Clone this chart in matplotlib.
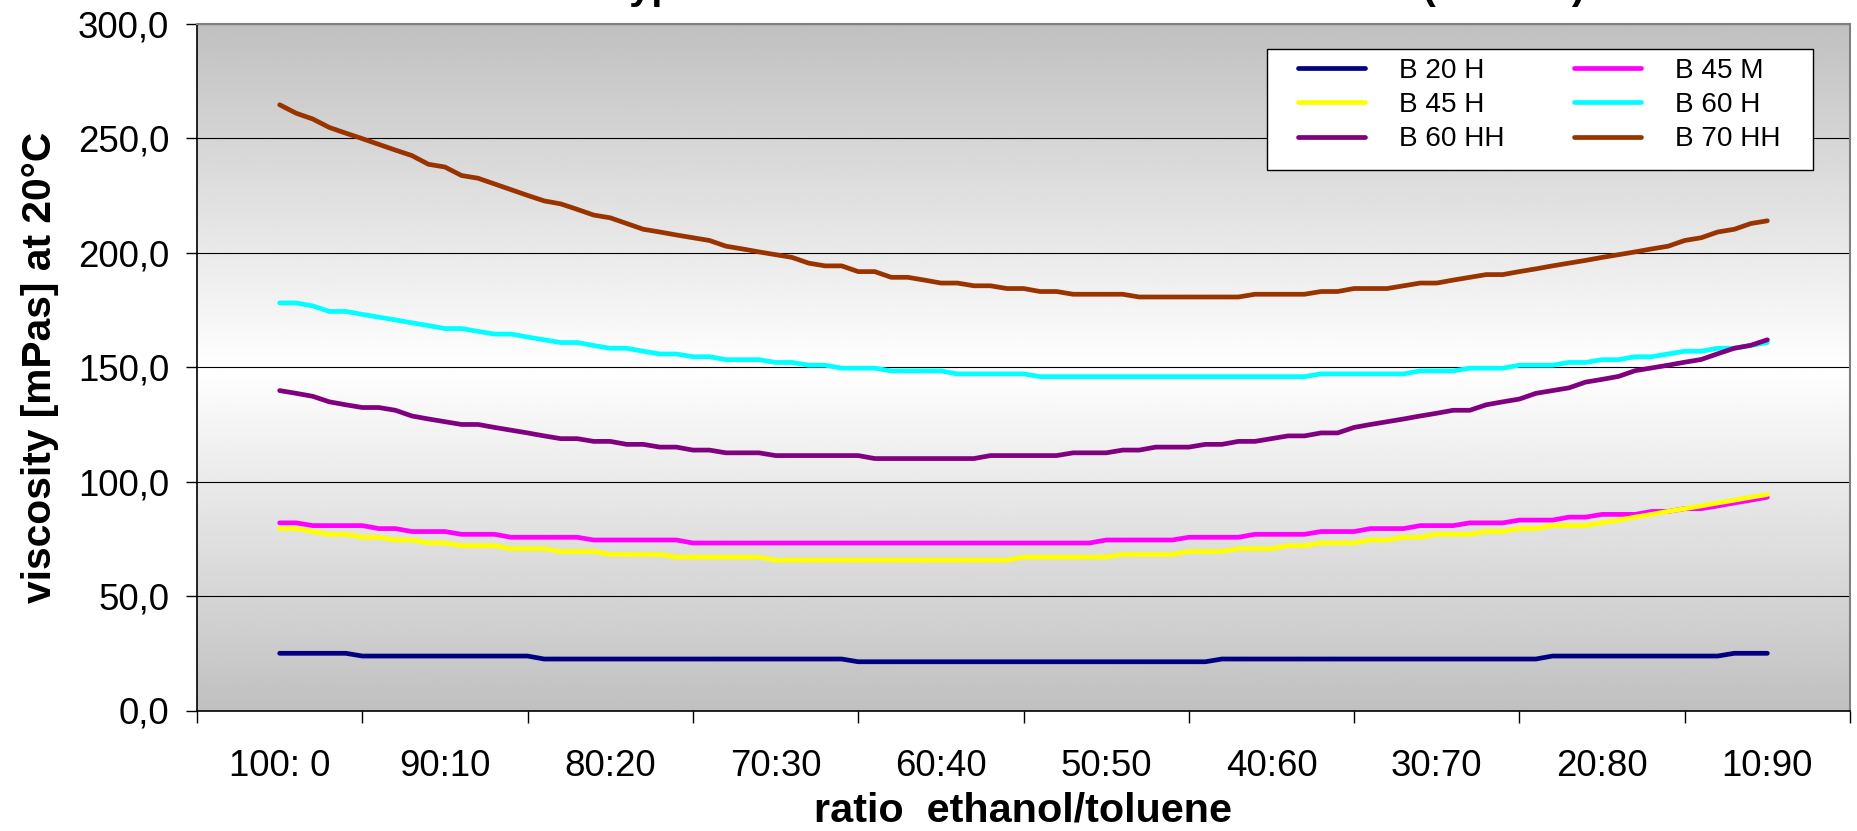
import matplotlib
matplotlib.use('Agg')
import matplotlib.pyplot as plt
import numpy as np
from matplotlib.patches import Rectangle

plt.rcParams['font.family'] = ['Liberation Sans', 'DejaVu Sans']

# ethanol share in %, 1 % steps from 100:0 down to 10:90
ethanol = list(range(100, 9, -1))

category_centers = [100, 90, 80, 70, 60, 50, 40, 30, 20, 10]
category_labels = ['100: 0', '90:10', '80:20', '70:30', '60:40',
                   '50:50', '40:60', '30:70', '20:80', '10:90']

# viscosity [mPas] at 20 degC
b20h = [25.0, 25.0, 25.0, 25.0, 25.0, 23.8, 23.8, 23.8, 23.8, 23.8,
        23.8, 23.8, 23.8, 23.8, 23.8, 23.8, 22.5, 22.5, 22.5, 22.5,
        22.5, 22.5, 22.5, 22.5, 22.5, 22.5, 22.5, 22.5, 22.5, 22.5,
        22.5, 22.5, 22.5, 22.5, 22.5, 21.3, 21.3, 21.3, 21.3, 21.3,
        21.3, 21.3, 21.3, 21.3, 21.3, 21.3, 21.3, 21.3, 21.3, 21.3,
        21.3, 21.3, 21.3, 21.3, 21.3, 21.3, 21.3, 22.5, 22.5, 22.5,
        22.5, 22.5, 22.5, 22.5, 22.5, 22.5, 22.5, 22.5, 22.5, 22.5,
        22.5, 22.5, 22.5, 22.5, 22.5, 22.5, 22.5, 23.8, 23.8, 23.8,
        23.8, 23.8, 23.8, 23.8, 23.8, 23.8, 23.8, 23.8, 25.0, 25.0,
        25.0]

b45m = [82.0, 82.0, 80.8, 80.8, 80.8, 80.8, 79.5, 79.5, 78.2, 78.2,
        78.2, 77.0, 77.0, 77.0, 75.7, 75.7, 75.7, 75.7, 75.7, 74.5,
        74.5, 74.5, 74.5, 74.5, 74.5, 73.2, 73.2, 73.2, 73.2, 73.2,
        73.2, 73.2, 73.2, 73.2, 73.2, 73.2, 73.2, 73.2, 73.2, 73.2,
        73.2, 73.2, 73.2, 73.2, 73.2, 73.2, 73.2, 73.2, 73.2, 73.2,
        74.5, 74.5, 74.5, 74.5, 74.5, 75.7, 75.7, 75.7, 75.7, 77.0,
        77.0, 77.0, 77.0, 78.2, 78.2, 78.2, 79.5, 79.5, 79.5, 80.8,
        80.8, 80.8, 82.0, 82.0, 82.0, 83.2, 83.2, 83.2, 84.5, 84.5,
        85.7, 85.7, 85.7, 87.0, 87.0, 88.2, 88.2, 89.4, 90.7, 91.9,
        93.2]

b45h = [79.5, 79.5, 78.2, 77.0, 77.0, 75.7, 75.7, 74.5, 74.5, 73.2,
        73.2, 72.0, 72.0, 72.0, 70.7, 70.7, 70.7, 69.5, 69.5, 69.5,
        68.2, 68.2, 68.2, 68.2, 67.0, 67.0, 67.0, 67.0, 67.0, 67.0,
        65.7, 65.7, 65.7, 65.7, 65.7, 65.7, 65.7, 65.7, 65.7, 65.7,
        65.7, 65.7, 65.7, 65.7, 65.7, 67.0, 67.0, 67.0, 67.0, 67.0,
        67.0, 68.2, 68.2, 68.2, 68.2, 69.5, 69.5, 69.5, 70.7, 70.7,
        70.7, 72.0, 72.0, 73.2, 73.2, 73.2, 74.5, 74.5, 75.7, 75.7,
        77.0, 77.0, 77.0, 78.2, 78.2, 79.5, 79.5, 80.8, 80.8, 80.8,
        82.0, 83.2, 84.5, 85.7, 87.0, 88.2, 89.4, 90.7, 91.9, 93.2,
        94.4]

b60h = [178.1, 178.1, 176.8, 174.4, 174.4, 173.1, 171.9, 170.7, 169.4, 168.2,
        166.9, 166.9, 165.7, 164.5, 164.5, 163.2, 162.0, 160.8, 160.8, 159.5,
        158.3, 158.3, 157.0, 155.8, 155.8, 154.6, 154.6, 153.3, 153.3, 153.3,
        152.1, 152.1, 150.9, 150.9, 149.6, 149.6, 149.6, 148.4, 148.4, 148.4,
        148.4, 147.1, 147.1, 147.1, 147.1, 147.1, 145.9, 145.9, 145.9, 145.9,
        145.9, 145.9, 145.9, 145.9, 145.9, 145.9, 145.9, 145.9, 145.9, 145.9,
        145.9, 145.9, 145.9, 147.1, 147.1, 147.1, 147.1, 147.1, 147.1, 148.4,
        148.4, 148.4, 149.6, 149.6, 149.6, 150.9, 150.9, 150.9, 152.1, 152.1,
        153.3, 153.3, 154.6, 154.6, 155.8, 157.0, 157.0, 158.3, 158.3, 159.5,
        160.8]

b60hh = [139.8, 138.6, 137.3, 134.9, 133.6, 132.4, 132.4, 131.2, 128.7, 127.4,
         126.2, 125.0, 125.0, 123.7, 122.5, 121.3, 120.0, 118.8, 118.8, 117.6,
         117.6, 116.3, 116.3, 115.1, 115.1, 113.8, 113.8, 112.6, 112.6, 112.6,
         111.4, 111.4, 111.4, 111.4, 111.4, 111.4, 110.1, 110.1, 110.1, 110.1,
         110.1, 110.1, 110.1, 111.4, 111.4, 111.4, 111.4, 111.4, 112.6, 112.6,
         112.6, 113.8, 113.8, 115.1, 115.1, 115.1, 116.3, 116.3, 117.6, 117.6,
         118.8, 120.0, 120.0, 121.3, 121.3, 123.7, 125.0, 126.2, 127.4, 128.7,
         129.9, 131.2, 131.2, 133.6, 134.9, 136.1, 138.6, 139.8, 141.0, 143.5,
         144.7, 146.0, 148.5, 149.7, 150.9, 152.2, 153.4, 155.9, 158.3, 159.6,
         162.0]

b70hh = [264.7, 261.0, 258.5, 254.8, 252.3, 249.9, 247.4, 244.9, 242.5, 238.7,
         237.5, 233.8, 232.6, 230.1, 227.6, 225.1, 222.7, 221.4, 219.0, 216.5,
         215.3, 212.8, 210.3, 209.1, 207.8, 206.6, 205.4, 202.9, 201.7, 200.4,
         199.2, 198.0, 195.5, 194.3, 194.3, 191.8, 191.8, 189.3, 189.3, 188.1,
         186.8, 186.8, 185.6, 185.6, 184.4, 184.4, 183.1, 183.1, 181.9, 181.9,
         181.9, 181.9, 180.7, 180.7, 180.7, 180.7, 180.7, 180.7, 180.7, 181.9,
         181.9, 181.9, 181.9, 183.1, 183.1, 184.4, 184.4, 184.4, 185.6, 186.8,
         186.8, 188.1, 189.3, 190.5, 190.5, 191.8, 193.0, 194.3, 195.5, 196.7,
         198.0, 199.2, 200.4, 201.7, 202.9, 205.4, 206.6, 209.1, 210.3, 212.8,
         214.0]

series = [
    ('B 20 H', b20h, '#000080'),
    ('B 45 M', b45m, '#FF00FF'),
    ('B 45 H', b45h, '#FFFF00'),
    ('B 60 H', b60h, '#00FFFF'),
    ('B 60 HH', b60hh, '#800080'),
    ('B 70 HH', b70hh, '#993300'),
]

W, H = 1858, 831
fig = plt.figure(figsize=(W / 100, H / 100), dpi=100)
ax = fig.add_axes([197 / W, 1 - 710.5 / H, 1653 / W, 686.5 / H])

# grey-white-grey plot area fill
t = np.linspace(0, 1, 256)
shade = (192 + 63 * (1 - np.abs(2 * t - 1))) / 255
ax.imshow(np.repeat(shade[:, None], 2, axis=1), cmap='gray', vmin=0, vmax=1,
          extent=[0, 1, 0, 1], transform=ax.transAxes, aspect='auto', zorder=0)

lines = {}
for name, vals, col in series:
    ln, = ax.plot(ethanol, vals, color=col, lw=3.4, label=name,
                  solid_capstyle='round', solid_joinstyle='round', zorder=3)
    lines[name] = ln

ax.set_xlim(105, 5)
ax.set_ylim(0, 300)

ax.set_yticks(np.arange(0, 301, 50))
ax.set_yticklabels([f'{v:.1f}'.replace('.', ',') for v in np.arange(0, 301, 50)])
ax.yaxis.grid(True, color='black', lw=0.8)
ax.tick_params(axis='y', direction='out', length=8, width=1, pad=12, labelsize=26.4)

ax.set_xticks(np.arange(105, 4, -10))
ax.set_xticklabels([])
ax.set_xticks(category_centers, minor=True)
ax.set_xticklabels(category_labels, minor=True)
ax.tick_params(axis='x', which='major', direction='out', length=8.4, width=1)
ax.tick_params(axis='x', which='minor', length=0, pad=27.5, labelsize=26.4)

for s in ['top', 'right']:
    ax.spines[s].set_color('#808080')
    ax.spines[s].set_linewidth(1.5)
for s in ['left', 'bottom']:
    ax.spines[s].set_color('black')
    ax.spines[s].set_linewidth(1.2)

ax.set_ylabel('viscosity [mPas] at 20°C', fontsize=29.3, fontweight='bold', va='center')
ax.yaxis.set_label_coords(-(197 - 40) / 1653, 0.5)
ax.set_xlabel('ratio  ethanol/toluene', fontsize=29.8, fontweight='bold', va='baseline')
ax.xaxis.set_label_coords(0.5, -(822 - 710.5) / 686.5)

# title, cut off at the top edge like the original (only descenders show)
fig.text(1022 / W, 1 + 1 / H, 'Mowital types in ethanol/toluene at different ratios (at 20°C)',
         ha='center', va='baseline', fontsize=28.8, fontweight='bold')

order = ['B 20 H', 'B 45 H', 'B 60 HH', 'B 45 M', 'B 60 H', 'B 70 HH']
frame = Rectangle((1267 / W, 1 - 170 / H), 546 / W, 121 / H, transform=fig.transFigure,
                  facecolor='white', edgecolor='black', lw=1, zorder=4)
ax.add_artist(frame)
leg = ax.legend(handles=[lines[n] for n in order], ncol=2, loc='center',
                bbox_to_anchor=(1539 / W, 1 - 105 / H), bbox_transform=fig.transFigure,
                frameon=False, fontsize=20.2, handlelength=2.4, handletextpad=1.2,
                columnspacing=2.46, labelspacing=0.3, borderpad=0)
leg.set_zorder(5)

fig.savefig('out.png', dpi=100)
